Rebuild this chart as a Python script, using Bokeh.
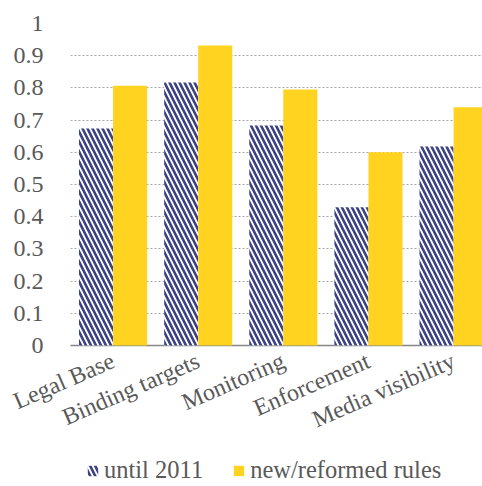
from bokeh.plotting import figure
from bokeh.layouts import column
from bokeh.models import ColumnDataSource, Range1d, FixedTicker, Legend, LegendItem
from bokeh.embed import file_html
from bokeh.resources import INLINE

categories = ["Legal Base", "Binding targets", "Monitoring", "Enforcement", "Media visibility"]
until_2011 = [0.674, 0.817, 0.683, 0.429, 0.618]
new_rules = [0.807, 0.932, 0.795, 0.600, 0.740]
series_names = ["until 2011", "new/reformed rules"]
y_ticks = [0, 0.1, 0.2, 0.3, 0.4, 0.5, 0.6, 0.7, 0.8, 0.9, 1]
y_labels = ["0", "0.1", "0.2", "0.3", "0.4", "0.5", "0.6", "0.7", "0.8", "0.9", "1"]

FONT = "Liberation Serif"
TXT = "#595959"
NAVY = "#3b4182"
YELLOW = "#FFD320"

idx = list(range(len(categories)))
src = ColumnDataSource(dict(
    x1=[i - 0.2 for i in idx],
    x2=[i + 0.2 for i in idx],
    a=until_2011,
    b=new_rules,
))

p = figure(width=482, height=447,
           output_backend="svg", toolbar_location=None,
           x_range=Range1d(-0.5, 4.34), y_range=Range1d(0, 1),
           min_border_left=70, min_border_right=0, min_border_top=23,
           min_border_bottom=102)
p.outline_line_color = None

hatch_kw = dict(fill_color="white", line_color=None, hatch_pattern="left_diagonal_line",
                hatch_color=NAVY, hatch_scale=10, hatch_weight=2.6)
p.vbar(x="x1", top="a", width=0.4, source=src, level="overlay", **hatch_kw)
p.vbar(x="x2", top="b", width=0.4, source=src, fill_color=YELLOW, line_color=None,
       level="overlay")

p.xgrid.grid_line_color = None
p.ygrid.grid_line_color = "#a6a6a6"
p.ygrid.grid_line_dash = "2 2"
p.ygrid.grid_line_width = 1
p.ygrid.ticker = FixedTicker(ticks=y_ticks[1:])

p.yaxis.ticker = FixedTicker(ticks=y_ticks)
p.yaxis.major_label_overrides = {t: l for t, l in zip(y_ticks, y_labels)}
p.yaxis.axis_line_color = None
p.yaxis.major_tick_line_color = None
p.yaxis.minor_tick_line_color = None
p.yaxis.major_label_text_font = FONT
p.yaxis.major_label_text_font_size = "24px"
p.yaxis.major_label_text_color = TXT
p.yaxis.major_label_standoff = 21

p.xaxis.ticker = FixedTicker(ticks=idx)
p.xaxis.major_label_overrides = {i: c for i, c in zip(idx, categories)}
p.xaxis.axis_line_color = "#868686"
p.xaxis.axis_line_width = 1.5
p.xaxis.major_tick_line_color = None
p.xaxis.minor_tick_line_color = None
p.xaxis.major_label_text_font = FONT
p.xaxis.major_label_text_font_size = "24px"
p.xaxis.major_label_text_color = TXT
p.xaxis.major_label_orientation = 0.41
p.xaxis.major_label_standoff = 8

# legend strip below the chart
p2 = figure(width=482, height=39, output_backend="svg", toolbar_location=None,
            x_range=Range1d(0, 1), y_range=Range1d(0, 1),
            min_border_left=0, min_border_right=0, min_border_top=0, min_border_bottom=0)
p2.outline_line_color = None
p2.xaxis.visible = False
p2.yaxis.visible = False
p2.grid.visible = False
key_src = ColumnDataSource(dict(x=[5], top=[0.5]))
k1 = p2.vbar(x="x", top="top", width=0.1, source=key_src, **hatch_kw)
k2 = p2.vbar(x="x", top="top", width=0.1, source=key_src, fill_color=YELLOW, line_color=None)

legend = Legend(items=[LegendItem(label=series_names[0], renderers=[k1]),
                       LegendItem(label=series_names[1], renderers=[k2])],
                orientation="horizontal", location=(16, 2))
legend.label_text_font = FONT
legend.label_text_font_size = "24.5px"
legend.label_text_color = TXT
legend.glyph_width = 13
legend.glyph_height = 13
legend.spacing = 29
legend.label_standoff = 5
legend.border_line_color = None
legend.background_fill_alpha = 0
legend.padding = 0
legend.margin = 0
p2.add_layout(legend, "center")

open("out.html", "w").write(file_html(column(p, p2, spacing=0), INLINE))
